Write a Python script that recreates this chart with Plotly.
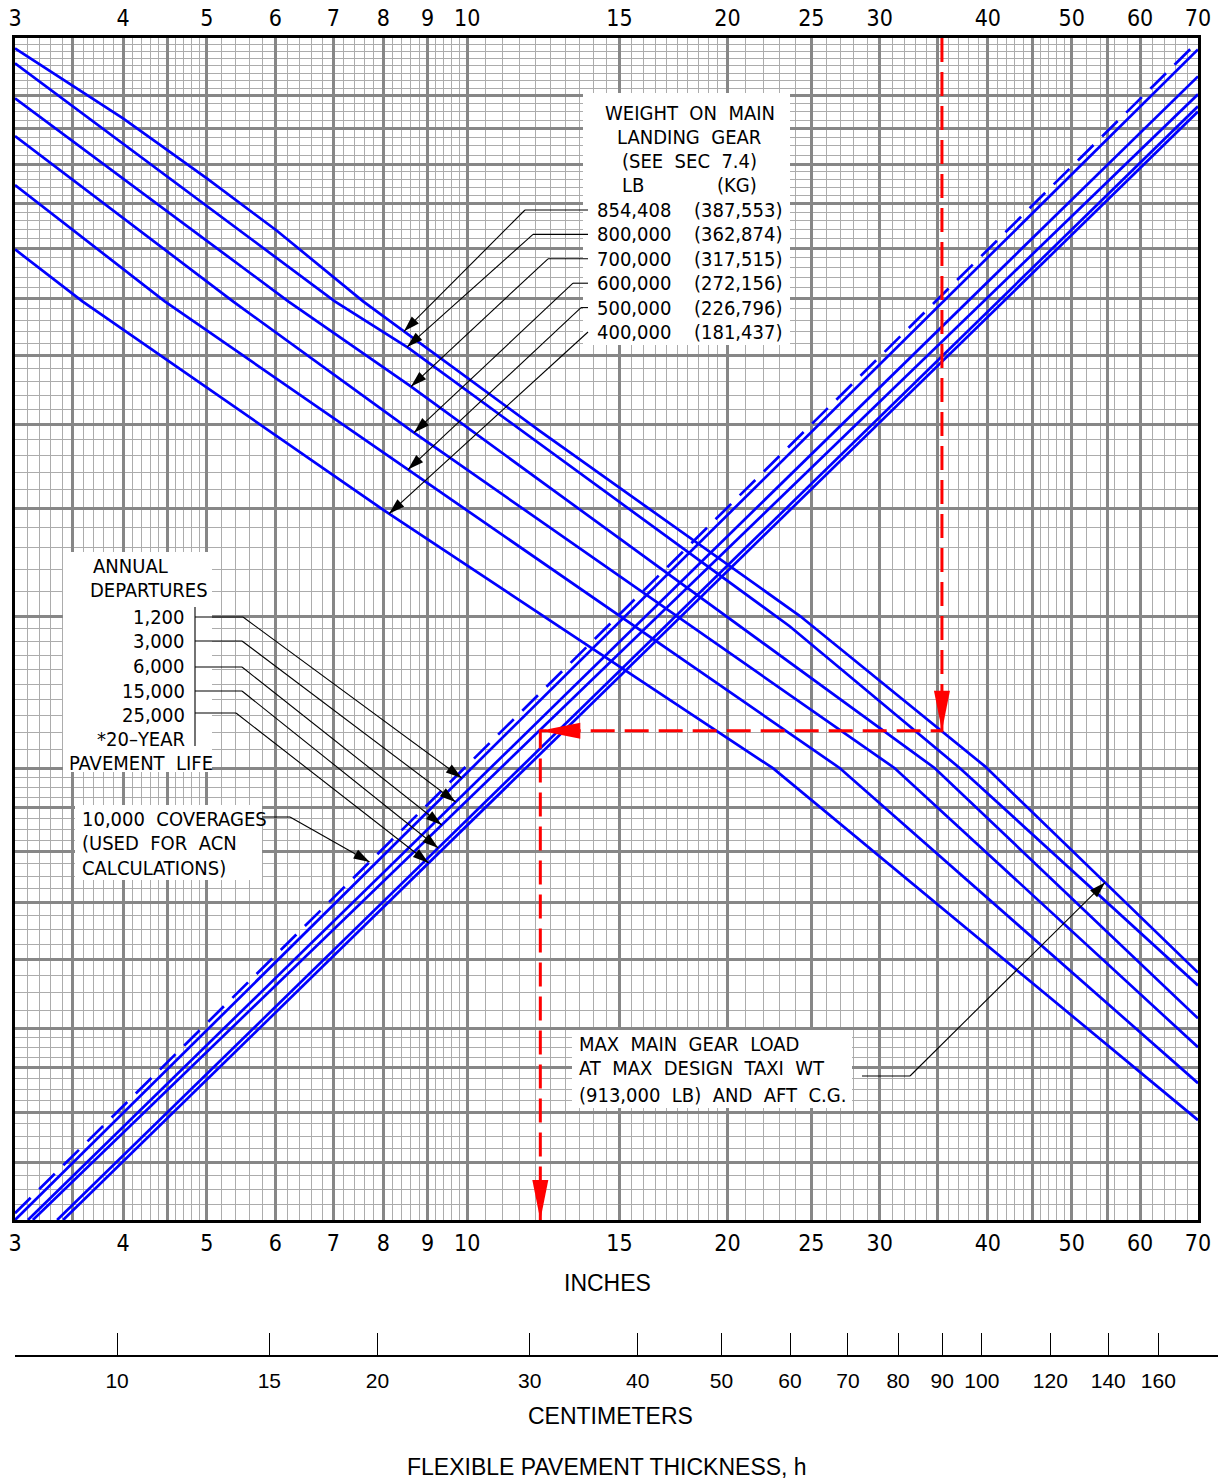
import numpy as np
import plotly.graph_objects as go

# ---------------- data ----------------
X_TICKS = [3, 4, 5, 6, 7, 8, 9, 10, 15, 20, 25, 30, 40, 50, 60, 70]
X_MAJOR_GRID = [3, 3.5, 4, 4.5, 5, 6, 7, 8, 9, 10, 15, 20, 25, 30, 35, 40, 45, 50, 55, 60, 70]
Y_MAJOR_GRID = [0.6, 0.7, 0.8, 0.9, 1.0, 1.2, 1.4, 1.6, 1.8, 2, 3, 4, 5, 6, 7, 8, 9, 10, 11, 12, 14]
CM_TICKS = [10, 15, 20, 30, 40, 50, 60, 70, 80, 90, 100, 120, 140, 160]

WEIGHT_LB = ["854,408", "800,000", "700,000", "600,000", "500,000", "400,000"]
WEIGHT_KG = ["(387,553)", "(362,874)", "(317,515)", "(272,156)", "(226,796)", "(181,437)"]

# descending weight curves (x = thickness in inches, y = chart ordinate)
W1_X = [3.0, 4.0, 5.0, 6.03, 7.58, 12.14, 24.26, 39.7, 70.0]
W1_Y = [13.62, 11.30, 9.63, 8.37, 6.94, 4.91, 3.00, 2.01, 1.16]
W2_X = [3.0, 7.03, 8.55, 23.6, 37.14, 70.0]
W2_Y = [13.09, 6.94, 6.13, 2.92, 2.0, 1.121]
W3_X = [3.0, 6.21, 8.59, 34.74, 70.0]
W3_Y = [11.92, 6.94, 5.54, 2.0, 1.027]
W4_X = [3.0, 5.36, 8.63, 31.22, 70.0]
W4_Y = [10.78, 6.94, 4.91, 2.0, 0.951]
W5_X = [3.0, 4.47, 8.52, 26.98, 70.0]
W5_Y = [9.46, 6.94, 4.44, 2.0, 0.864]
W6_X = [3.0, 3.59, 8.03, 22.57, 70.0]
W6_Y = [7.97, 6.94, 3.97, 2.0, 0.783]

# ascending departure lines (start, end)
DEP_LABELS = ["1,200", "3,000", "6,000", "15,000", "25,000"]
D1_X = [3.0, 70.0];   D1_Y = [0.600, 13.58]
D2_X = [3.105, 70.0]; D2_Y = [0.600, 12.64]
D3_X = [3.146, 70.0]; D3_Y = [0.600, 12.05]
D4_X = [3.356, 70.0]; D4_Y = [0.600, 11.67]
D5_X = [3.41, 70.0];  D5_Y = [0.600, 11.51]
COV_X = [3.0, 70.0];  COV_Y = [0.611, 13.87]   # 10,000 coverages (dashed)

# worked example (red)
EX_X_START = 35.4
EX_Y_LEVEL = 2.21
EX_X_RESULT = 12.15

W_X = [W1_X, W2_X, W3_X, W4_X, W5_X, W6_X]
W_Y = [W1_Y, W2_Y, W3_Y, W4_Y, W5_Y, W6_Y]
D_X = [D1_X, D2_X, D3_X, D4_X, D5_X]
D_Y = [D1_Y, D2_Y, D3_Y, D4_Y, D5_Y]

# ---------------- geometry ----------------
W, H = 1223, 1481
ML, MR, MT, MB = 15, 5, 38, 126
PL, PR, PT, PB = 15, 1198, 38, 1220
XMIN, XMAX = 3.0, 70.0
YMIN, YMAX = 0.6, 14.0
kx = (PR - PL) / np.log10(XMAX / XMIN)
ky = (PB - PT) / np.log10(YMAX / YMIN)
PW = W - ML - MR
PH = H - MT - MB


def x2px(x):
    return PL + kx * np.log10(np.asarray(x, float) / XMIN)


def y2py(y):
    return PB - ky * np.log10(np.asarray(y, float) / YMIN)


def fx(px):
    return (px - ML) / PW


def fy(py):
    return (H - MB - py) / PH


def py_on(xs, ys, px):
    return float(np.interp(px, x2px(xs), y2py(ys)))


def px_on(xs, ys, py):
    pxs = x2px(xs); pys = y2py(ys)
    return float(np.interp(py, pys[::-1], pxs[::-1]))


BLUE = "#0000ff"
RED = "#ff0000"
CAD = "Liberation Sans Narrow, DejaVu Sans Condensed, sans-serif"
ARIAL = "Liberation Sans, Arial, sans-serif"

fig = go.Figure()

for xs, ys in zip(W_X, W_Y):
    fig.add_trace(go.Scatter(x=xs, y=ys, mode="lines", line=dict(color=BLUE, width=2.7),
                             hoverinfo="skip", showlegend=False))
for xs, ys in zip(D_X, D_Y):
    fig.add_trace(go.Scatter(x=xs, y=ys, mode="lines", line=dict(color=BLUE, width=2.7),
                             hoverinfo="skip", showlegend=False))
fig.add_trace(go.Scatter(x=COV_X, y=COV_Y, mode="lines",
                         line=dict(color=BLUE, width=2.7, dash="22px,12px"),
                         hoverinfo="skip", showlegend=False))

# red example path
fig.add_trace(go.Scatter(x=[EX_X_START, EX_X_START, EX_X_RESULT, EX_X_RESULT],
                         y=[YMAX, EX_Y_LEVEL, EX_Y_LEVEL, YMIN], mode="lines",
                         line=dict(color=RED, width=3, dash="24px,10px"),
                         hoverinfo="skip", showlegend=False))

# dummy traces to activate extra axes
fig.add_trace(go.Scatter(x=[XMIN], y=[YMIN], xaxis="x2", yaxis="y", mode="markers",
                         marker=dict(opacity=0), hoverinfo="skip", showlegend=False))
fig.add_trace(go.Scatter(x=[10], y=[0.5], xaxis="x3", yaxis="y2", mode="markers",
                         marker=dict(opacity=0), hoverinfo="skip", showlegend=False))


def frange(a, b, s):
    n = int(round((b - a) / s))
    return [round(a + i * s, 4) for i in range(n + 1)]


x_minor = sorted(set(frange(3, 5, 0.1) + frange(5, 10, 0.2) + frange(10, 20, 0.5)
                     + frange(20, 50, 1) + frange(50, 70, 2)) - set(X_MAJOR_GRID))
y_minor = sorted(set(frange(0.6, 1, 0.025) + frange(1, 2, 0.05) + frange(2, 3, 0.1)
                     + frange(3, 10, 0.2) + frange(10, 14, 0.25)) - set(Y_MAJOR_GRID))

xt_text = [(str(v) if v in X_TICKS else "") for v in X_MAJOR_GRID]
xdom = [0, (PR - PL) / PW]
ydom = [fy(PB), 1]
GRID_MAJOR = "#878787"
GRID_MINOR = "#acacac"

xr = [np.log10(XMIN), np.log10(XMAX)]
fig.update_layout(
    template="none",
    width=W, height=H, margin=dict(l=ML, r=MR, t=MT, b=MB, autoexpand=False),
    autosize=False,
    paper_bgcolor="white", plot_bgcolor="white", showlegend=False,
    xaxis=dict(type="log", range=xr, domain=xdom, anchor="y", automargin=False,
               tickmode="array", tickvals=X_MAJOR_GRID, ticktext=xt_text,
               showgrid=True, gridcolor=GRID_MAJOR, gridwidth=2.6,
               minor=dict(tickmode="array", tickvals=x_minor, showgrid=True,
                          gridcolor=GRID_MINOR, gridwidth=1.3, ticks=""),
               showline=True, mirror=True, linecolor="black", linewidth=3,
               ticks="", tickfont=dict(family=CAD, size=23, color="black"),
               ticklabelstandoff=0, zeroline=False, fixedrange=True),
    xaxis2=dict(type="log", range=xr, domain=xdom, overlaying="x", side="top", anchor="y",
                automargin=False,
                tickmode="array", tickvals=X_MAJOR_GRID, ticktext=xt_text,
                showgrid=False, showline=False, ticks="", zeroline=False,
                tickfont=dict(family=CAD, size=23, color="black"),
                ticklabelstandoff=6, fixedrange=True),
    xaxis3=dict(type="log", domain=[0, 1], anchor="y2", automargin=False,
                range=[np.log10(XMIN * 2.54), np.log10(XMIN * 2.54) + PW / kx],
                tickmode="array", tickvals=CM_TICKS, ticktext=[str(v) for v in CM_TICKS],
                ticks="inside", ticklen=22, tickwidth=1, tickcolor="black",
                showline=True, linecolor="black", linewidth=1.5, showgrid=False,
                zeroline=False,
                tickfont=dict(family=ARIAL, size=21, color="black"),
                ticklabelstandoff=6, fixedrange=True),
    yaxis=dict(type="log", range=[np.log10(YMIN), np.log10(YMAX)], domain=ydom, anchor="x",
               automargin=False,
               tickmode="array", tickvals=Y_MAJOR_GRID, showticklabels=False,
               showgrid=True, gridcolor=GRID_MAJOR, gridwidth=2.6,
               minor=dict(tickmode="array", tickvals=y_minor, showgrid=True,
                          gridcolor=GRID_MINOR, gridwidth=1.3, ticks=""),
               showline=True, mirror=True, linecolor="black", linewidth=3,
               ticks="", zeroline=False, fixedrange=True),
    yaxis2=dict(domain=[0, 0.001], anchor="x3", range=[0, 1], visible=False,
                automargin=False, fixedrange=True),
)

shapes = []
annots = []


def rect(x0, y0, x1, y1):
    shapes.append(dict(type="rect", xref="paper", yref="paper", x0=fx(x0), x1=fx(x1),
                       y0=fy(y1), y1=fy(y0), fillcolor="white", line=dict(width=0),
                       layer="above"))


def seg(x0, y0, x1, y1, w=1.1, color="black"):
    shapes.append(dict(type="line", xref="paper", yref="paper", x0=fx(x0), y0=fy(y0),
                       x1=fx(x1), y1=fy(y1), line=dict(color=color, width=w), layer="above"))


def head(tx, ty, ex, ey, L=16, hw=5, color="black"):
    u = np.array([tx - ex, ty - ey], float)
    u /= np.hypot(*u)
    n = np.array([-u[1], u[0]])
    b = np.array([tx, ty]) - L * u
    p1 = b + hw * n
    p2 = b - hw * n
    path = "M {:.5f},{:.5f} L {:.5f},{:.5f} L {:.5f},{:.5f} Z".format(
        fx(tx), fy(ty), fx(p1[0]), fy(p1[1]), fx(p2[0]), fy(p2[1]))
    shapes.append(dict(type="path", xref="paper", yref="paper", path=path,
                       fillcolor=color, line=dict(width=0), layer="above"))


def text(s, px, py, anchor="left", size=20, fam=CAD):
    annots.append(dict(text=s, xref="paper", yref="paper", x=fx(px), y=fy(py),
                       xanchor=anchor, yanchor="middle", showarrow=False,
                       font=dict(family=fam, size=size, color="black")))


SP = "\u00a0\u00a0"

# white label boxes
rect(583, 93, 790, 345)
rect(63, 552, 212, 772)
rect(75, 805, 262, 880)
rect(572, 1030, 852, 1108)

# weight legend
text("WEIGHT" + SP + "ON" + SP + "MAIN", 690, 113, "center")
text("LANDING" + SP + "GEAR", 689, 137, "center")
text("(SEE" + SP + "SEC" + SP + "7.4)", 689, 161, "center")
text("LB", 633, 185, "center")
text("(KG)", 737, 185, "center")
W_ROW = [210 + 24.4 * i for i in range(6)]
W_ELBOW = [525, 533, 548, 573, 581, 588]
W_TIP = [404, 407, 411, 414, 408, 389]
for i in range(6):
    text(WEIGHT_LB[i], 595, W_ROW[i])
    text(WEIGHT_KG[i], 784, W_ROW[i], "right")
    ty = py_on(W_X[i], W_Y[i], W_TIP[i])
    seg(W_ELBOW[i], W_ROW[i], 588, W_ROW[i])
    seg(W_ELBOW[i], W_ROW[i], W_TIP[i], ty)
    head(W_TIP[i], ty, W_ELBOW[i], W_ROW[i])

# departures legend
text("ANNUAL", 130, 566, "center")
text("DEPARTURES", 149, 590, "center")
D_ROW = [617, 641, 666, 691, 715]
D_ELBOW_Y = [617, 641, 667, 691, 713]
D_ELBOW_X = [243, 242, 242, 242, 236]
D_TIP_PY = [778, 802, 825, 848, 863]
for i in range(5):
    text(DEP_LABELS[i], 187, D_ROW[i], "right")
    tx = px_on(D_X[i], D_Y[i], D_TIP_PY[i])
    seg(195, D_ELBOW_Y[i], D_ELBOW_X[i], D_ELBOW_Y[i])
    seg(D_ELBOW_X[i], D_ELBOW_Y[i], tx, D_TIP_PY[i])
    head(tx, D_TIP_PY[i], D_ELBOW_X[i], D_ELBOW_Y[i])
seg(195, 607, 195, 746)
text("*20\u2013YEAR", 187, 739, "right")
text("PAVEMENT" + SP + "LIFE", 67, 763)

# coverages legend
text("10,000" + SP + "COVERAGES", 80, 819)
text("(USED" + SP + "FOR" + SP + "ACN", 80, 843)
text("CALCULATIONS)", 80, 868)
tx = px_on(COV_X, COV_Y, 862)
seg(262, 817, 290, 817)
seg(290, 817, tx, 862)
head(tx, 862, 290, 817)

# max gear load
text("MAX" + SP + "MAIN" + SP + "GEAR" + SP + "LOAD", 577, 1044)
text("AT" + SP + "MAX" + SP + "DESIGN" + SP + "TAXI" + SP + "WT", 577, 1068)
text("(913,000" + SP + "LB)" + SP + "AND" + SP + "AFT" + SP + "C.G.", 577, 1095)
ty = py_on(W1_X, W1_Y, 1105)
seg(862, 1076, 910, 1076)
seg(910, 1076, 1105, ty)
head(1105, ty, 910, 1076)

# red arrowheads
rx1 = float(x2px(EX_X_START)); rx2 = float(x2px(EX_X_RESULT)); ryl = float(y2py(EX_Y_LEVEL))
head(rx1, ryl, rx1, ryl - 100, L=40, hw=8, color=RED)
head(rx2, ryl, rx2 + 100, ryl, L=40, hw=8, color=RED)
head(rx2, PB, rx2, PB - 100, L=40, hw=8, color=RED)

# axis titles
text("INCHES", 607, 1283, "center", 23, ARIAL)
text("CENTIMETERS", 610, 1416, "center", 23, ARIAL)
text("FLEXIBLE PAVEMENT THICKNESS, h", 607, 1467, "center", 23, ARIAL)

fig.update_layout(shapes=shapes, annotations=annots)
fig.write_html("out.html", config={"displayModeBar": False, "responsive": False},
               post_script="document.body.style.margin='0';"
                           "document.documentElement.style.overflow='hidden';"
                           "document.body.style.overflow='hidden';")
